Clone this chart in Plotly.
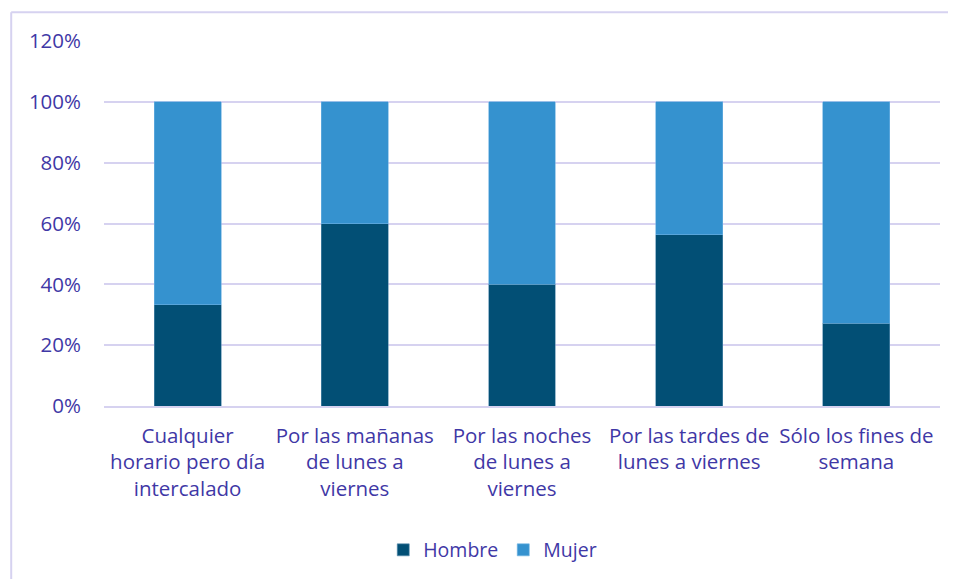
import plotly.graph_objects as go

categories = [
    "Cualquier<br>horario pero día<br>intercalado",
    "Por las mañanas<br>de lunes a<br>viernes",
    "Por las noches<br>de lunes a<br>viernes",
    "Por las tardes de<br>lunes a viernes",
    "Sólo los fines de<br>semana",
]
hombre = [0.3333, 0.60, 0.40, 0.5625, 0.2727]
mujer = [0.6667, 0.40, 0.60, 0.4375, 0.7273]
y_ticks = [0, 0.2, 0.4, 0.6, 0.8, 1.0, 1.2]
y_labels = ["0%", "20%", "40%", "60%", "80%", "100%", "120%"]

TXT = "#3F38A6"
GRID = "#D6D2F0"
FONT = "Open Sans"

fig = go.Figure()
fig.add_trace(go.Bar(name="Hombre", x=categories, y=hombre,
                     marker=dict(color="#024F75", line=dict(color="#5B8FB0", width=0.6))))
fig.add_trace(go.Bar(name="Mujer", x=categories, y=mujer,
                     marker=dict(color="#3592CF", line=dict(color="#6FB3E3", width=0.6))))

fig.update_layout(
    barmode="stack",
    bargap=0.6,
    width=956, height=579,
    margin=dict(l=96, r=24, t=33, b=181),
    paper_bgcolor="white", plot_bgcolor="white",
    font=dict(family=FONT, size=20, color=TXT),
    legend=dict(orientation="h", x=0.465, xanchor="center", y=-0.395, yanchor="middle",
                font=dict(family=FONT, size=19.5, color=TXT), traceorder="normal",
                itemwidth=30),
    showlegend=True,
    shapes=[
        dict(type="line", xref="paper", yref="paper", x0=-0.111, x1=-0.111, y0=-0.6, y1=1.079,
             line=dict(color=GRID, width=2)),
        dict(type="line", xref="paper", yref="paper", x0=-0.111, x1=1.04, y0=1.079, y1=1.079,
             line=dict(color=GRID, width=2)),
    ],
)
fig.update_yaxes(range=[0, 1.2], tickvals=y_ticks, ticktext=y_labels,
                 showgrid=True, gridcolor=GRID, gridwidth=2, zeroline=False,
                 showline=False, ticks="", ticklabelstandoff=22,
                 tickfont=dict(family=FONT, size=20.5, color=TXT))
fig.update_xaxes(showgrid=False, showline=True, linecolor=GRID, linewidth=2,
                 ticks="", ticklabelstandoff=10,
                 tickfont=dict(family=FONT, size=20.5, color=TXT), tickangle=0)

fig.write_html("out.html")
